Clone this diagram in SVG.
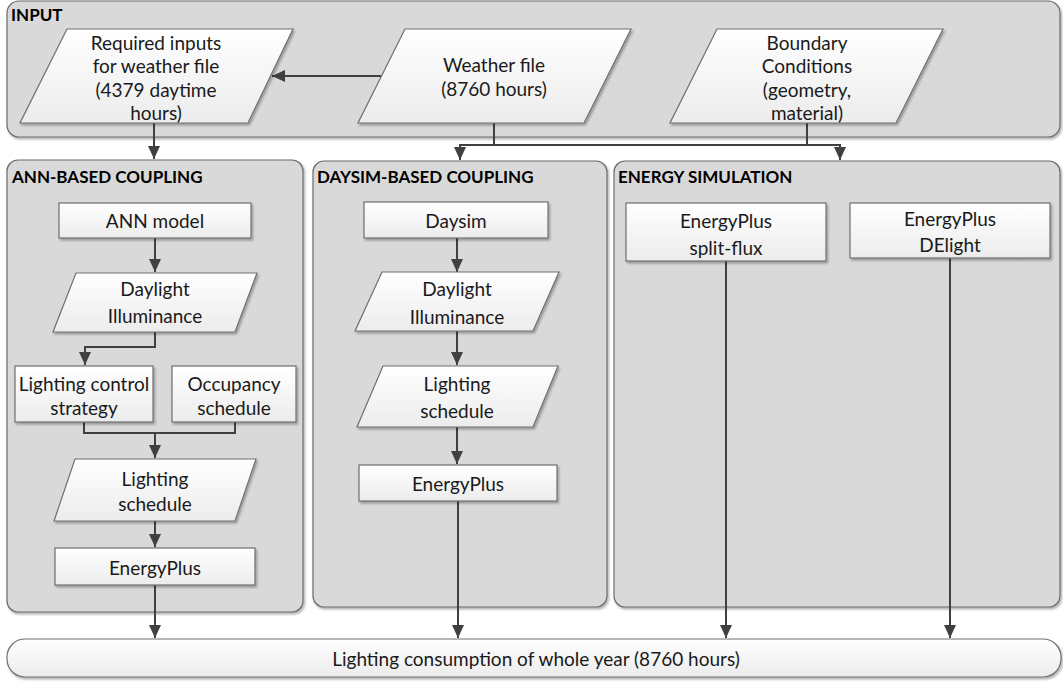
<svg xmlns="http://www.w3.org/2000/svg" width="1063" height="684" viewBox="0 0 1063 684">
<defs>
<linearGradient id="ng" x1="0" y1="0" x2="0" y2="1"><stop offset="0" stop-color="#ffffff"/><stop offset="1" stop-color="#ececec"/></linearGradient>
<filter id="sh" x="-10%" y="-10%" width="130%" height="140%"><feDropShadow dx="1.5" dy="2" stdDeviation="1.2" flood-color="#000" flood-opacity="0.3"/></filter>
<marker id="ah" markerWidth="13" markerHeight="12" refX="13" refY="6" orient="auto" markerUnits="userSpaceOnUse"><path d="M0,0 L13,6 L0,12 Z" fill="#404040"/></marker>
<style>
.cont{fill:#d9d9d9;stroke:#6b6b6b;stroke-width:1.2;filter:url(#sh)}
.node{fill:url(#ng);stroke:#6f6f6f;stroke-width:1.2;filter:url(#sh)}
.hd{font-family:Lato,"Liberation Sans",sans-serif;font-weight:bold;font-size:17px;fill:#000}
.t{font-family:Lato,"Liberation Sans",sans-serif;font-size:19px;fill:#1a1a1a;text-anchor:middle;dominant-baseline:central}
.c{fill:none;stroke:#404040;stroke-width:2}
.ca{fill:none;stroke:#404040;stroke-width:2;marker-end:url(#ah)}
</style>
</defs>

<g id="input">
<rect class="cont" x="7" y="1" width="1053" height="136" rx="12"/>
<text class="hd" x="11" y="21">INPUT</text>
</g>
<g id="ann-container">
<rect class="cont" x="7" y="160" width="296" height="452" rx="11"/>
<text class="hd" x="12" y="183">ANN-BASED COUPLING</text>
</g>
<g id="daysim-container">
<rect class="cont" x="313" y="161" width="294" height="446" rx="11"/>
<text class="hd" x="317" y="183">DAYSIM-BASED COUPLING</text>
</g>
<g id="energy-container">
<rect class="cont" x="614" y="161" width="446" height="446" rx="11"/>
<text class="hd" x="618" y="183">ENERGY SIMULATION</text>
</g>

<g id="connectors">
<path class="ca" d="M381,76 L272,76"/>
<path class="ca" d="M154,123 L154,159"/>
<path class="c" d="M494,123 L494,145 M807,123 L807,145 M460,145 L840,145"/>
<path class="ca" d="M460,144 L460,160"/>
<path class="ca" d="M840,144 L840,160"/>
<path class="ca" d="M155,238 L155,272"/>
<path class="ca" d="M155,332 L155,347 L85,347 L85,365"/>
<path class="c" d="M84,422 L84,433 L235,433 L235,422"/>
<path class="ca" d="M155,433 L155,458"/>
<path class="ca" d="M155,521 L155,547"/>
<path class="ca" d="M155,585 L155,638"/>
<path class="ca" d="M457,238 L457,272"/>
<path class="ca" d="M457,331 L457,365"/>
<path class="ca" d="M457,427 L457,464"/>
<path class="ca" d="M458,501 L458,638"/>
<path class="ca" d="M726,261 L726,638"/>
<path class="ca" d="M950,258 L950,638"/>
</g>

<g id="required-inputs">
<polygon class="node" points="67,29 293,29 248,123 20,123"/>
<text class="t" x="156" y="42">Required inputs</text>
<text class="t" x="156" y="65">for weather file</text>
<text class="t" x="156" y="89">(4379 daytime</text>
<text class="t" x="156" y="112">hours)</text>
</g>
<g id="weather-file">
<polygon class="node" points="405,29 631,29 584,123 358,123"/>
<text class="t" x="494" y="64">Weather file</text>
<text class="t" x="494" y="88">(8760 hours)</text>
</g>
<g id="boundary">
<polygon class="node" points="717,29 943,29 896,123 670,123"/>
<text class="t" x="807" y="42">Boundary</text>
<text class="t" x="807" y="65">Conditions</text>
<text class="t" x="807" y="89">(geometry,</text>
<text class="t" x="807" y="112">material)</text>
</g>

<g id="ann-model">
<rect class="node" x="59" y="203" width="192" height="35"/>
<text class="t" x="155" y="220">ANN model</text>
</g>
<g id="ann-daylight">
<polygon class="node" points="76,273 257,273 235,332 53,332"/>
<text class="t" x="155" y="288">Daylight</text>
<text class="t" x="155" y="315">Illuminance</text>
</g>
<g id="lighting-control">
<rect class="node" x="15" y="366" width="138" height="56"/>
<text class="t" x="84" y="383">Lighting control</text>
<text class="t" x="84" y="407">strategy</text>
</g>
<g id="occupancy">
<rect class="node" x="172" y="366" width="124" height="56"/>
<text class="t" x="234" y="383">Occupancy</text>
<text class="t" x="234" y="407">schedule</text>
</g>
<g id="ann-lighting-schedule">
<polygon class="node" points="75,459 256,459 235,521 54,521"/>
<text class="t" x="155" y="478">Lighting</text>
<text class="t" x="155" y="503">schedule</text>
</g>
<g id="ann-energyplus">
<rect class="node" x="55" y="548" width="200" height="37"/>
<text class="t" x="155" y="567">EnergyPlus</text>
</g>

<g id="daysim">
<rect class="node" x="364" y="202" width="184" height="36"/>
<text class="t" x="456" y="220">Daysim</text>
</g>
<g id="daysim-daylight">
<polygon class="node" points="382,272 559,272 533,331 355,331"/>
<text class="t" x="457" y="288">Daylight</text>
<text class="t" x="457" y="316">Illuminance</text>
</g>
<g id="daysim-lighting-schedule">
<polygon class="node" points="383,366 558,366 533,427 357,427"/>
<text class="t" x="457" y="383">Lighting</text>
<text class="t" x="457" y="410">schedule</text>
</g>
<g id="daysim-energyplus">
<rect class="node" x="359" y="465" width="198" height="36"/>
<text class="t" x="458" y="483">EnergyPlus</text>
</g>

<g id="ep-splitflux">
<rect class="node" x="626" y="203" width="200" height="58"/>
<text class="t" x="726" y="220">EnergyPlus</text>
<text class="t" x="726" y="247">split-flux</text>
</g>
<g id="ep-delight">
<rect class="node" x="850" y="203" width="200" height="55"/>
<text class="t" x="950" y="218">EnergyPlus</text>
<text class="t" x="950" y="244">DElight</text>
</g>

<g id="result">
<rect class="node" x="7" y="639" width="1054" height="38" rx="18"/>
<text class="t" x="536" y="658">Lighting consumption of whole year (8760 hours)</text>
</g>
</svg>
